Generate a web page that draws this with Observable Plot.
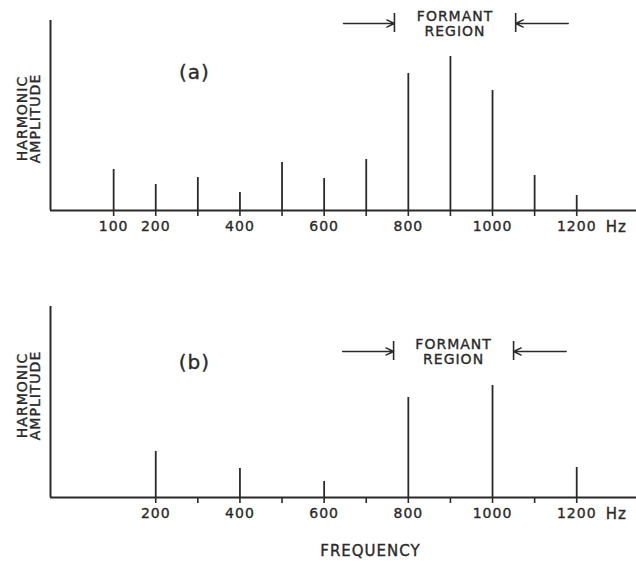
<!DOCTYPE html>
<html><head><meta charset="utf-8">
<script src="https://cdn.jsdelivr.net/npm/d3@7"></script>
<script src="https://cdn.jsdelivr.net/npm/@observablehq/plot@0.6"></script>
<style>
body{margin:0;background:#fff}
#chart svg{display:block}
#chart svg text{stroke:#2a2a2a;stroke-width:0.35px}
</style>
</head><body><div id="chart"></div>
<script>
// ---- data ----
const harmonicsA = [100,200,300,400,500,600,700,800,900,1000,1100,1200];
const amplitudesA = [41,26,33,18,48,32,51,137,154,120,35,15];
const harmonicsB = [200,400,600,800,1000,1200];
const amplitudesB = [46,29,16,100,112,30];
const ticksA = [100,200,300,400,500,600,700,800,900,1000,1100,1200];
const labelsA = [100,200,400,600,800,1000,1200];
const ticksB = [200,300,400,500,600,700,800,900,1000,1100,1200];
const labelsB = [200,400,600,800,1000,1200];
const formantA = [767,1055];
const formantB = [765,1050];
const panelTags = ["(a)","(b)"];
const unitLabel = "Hz";
const yLabel = "HARMONIC\nAMPLITUDE";
const formantLabel = "FORMANT\nREGION";
const xTitle = "FREQUENCY";

const ink = "#2a2a2a";
const font = "'DejaVu Sans', sans-serif";

function panel(o) {
  const data = o.harmonics.map((f, i) => ({f, a: o.amps[i]}));
  const [fl, fr] = o.formant;
  const mid = (fl + fr) / 2;
  return Plot.plot({
    width: 636, height: o.height,
    marginLeft: 50, marginRight: 0, marginTop: o.marginTop, marginBottom: o.marginBottom,
    x: {domain: [-50, 1342]},
    y: {domain: [0, o.yMax], axis: null},
    style: {fontFamily: font, color: ink, background: "#fff", overflow: "visible", letterSpacing: "1px"},
    marks: [
      Plot.axisX({ticks: o.ticks, tickSize: 6, tickPadding: 5,
        tickFormat: d => o.labels.includes(d) ? String(d) : "",
        fontSize: 14, stroke: ink, fill: ink, strokeWidth: 1.6, label: null}),
      Plot.ruleY([0], {stroke: ink, strokeWidth: 2}),
      Plot.ruleX([-50], {y1: 0, y2: o.yMax, stroke: ink, strokeWidth: 2}),
      Plot.ruleX(data, {x: "f", y1: 0, y2: "a", stroke: ink, strokeWidth: 1.8}),
      Plot.text([unitLabel], {x: 1294, y: 0, dy: 17, fontSize: 15, fill: ink}),
      Plot.text([o.tag], {x: 292, y: o.tagY, fontSize: 20, fill: ink}),
      Plot.text([yLabel], {x: -100, y: o.yLabelY, rotate: -90, fontSize: 14, lineHeight: 0.95, fill: ink}),
      Plot.text([formantLabel], {x: mid, y: o.formantY, fontSize: 14, lineHeight: 1.1, fill: ink}),
      Plot.ruleX([fl, fr], {y1: o.formantY - 9, y2: o.formantY + 10, stroke: ink, strokeWidth: 1.6}),
      Plot.arrow([0], {x1: fl - 121, y1: o.formantY, x2: fl, y2: o.formantY, stroke: ink, strokeWidth: 1.4, headLength: 9, headAngle: 50}),
      Plot.arrow([0], {x1: fr + 125, y1: o.formantY, x2: fr, y2: o.formantY, stroke: ink, strokeWidth: 1.4, headLength: 9, headAngle: 50}),
      ...(o.extra || [])
    ]
  });
}

const panelA = panel({
  harmonics: harmonicsA, amps: amplitudesA, ticks: ticksA, labels: labelsA,
  formant: formantA, tag: panelTags[0], height: 250, marginTop: 20, marginBottom: 40,
  yMax: 190, formantY: 187, tagY: 138, yLabelY: 92
});
const panelB = panel({
  harmonics: harmonicsB, amps: amplitudesB, ticks: ticksB, labels: labelsB,
  formant: formantB, tag: panelTags[1], height: 313, marginTop: 56, marginBottom: 66,
  yMax: 191, formantY: 146, tagY: 135, yLabelY: 102,
  extra: [Plot.text([xTitle], {x: 710, y: 0, dy: 54, fontSize: 15, fill: ink})]
});
const el = document.getElementById("chart");
el.appendChild(panelA);
el.appendChild(panelB);
</script>
</body></html>
